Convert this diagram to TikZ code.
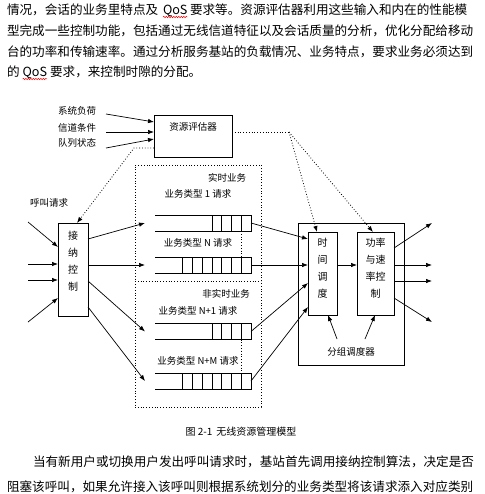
\documentclass[tikz,border=0pt]{standalone}
\usepackage{fontspec}
\setmainfont{Noto Sans CJK SC}
\usetikzlibrary{arrows.meta,decorations.pathmorphing,calc}
\XeTeXinterchartokenstate=1
\XeTeXinterchartoks 1 1 = {\hskip 0pt plus 2pt\relax}
\XeTeXinterchartoks 1 3 = {\hskip 0pt plus 2pt\relax}
\XeTeXinterchartoks 3 1 = {\hskip 0pt plus 2pt\relax}
\XeTeXinterchartoks 1 2 = {\hskip 0pt plus 2pt\relax}
\XeTeXinterchartoks 2 1 = {\hskip 0pt plus 2pt\relax}
\newcommand\jline[1]{\makebox[468pt][s]{#1}}
\begin{document}
\begin{tikzpicture}[x=1pt,y=-1pt,
  every node/.style={inner sep=0pt, outer sep=0pt},
  body/.style={font=\fontsize{12.6}{14}\selectfont},
  lbl/.style={font=\fontsize{9.5}{11}\selectfont},
  vlbl/.style={font=\fontsize{10}{17}\selectfont, align=center},
  box/.style={draw, line width=0.9pt},
  conn/.style={line width=0.7pt},
  arr/.style={conn, -{Latex[length=6pt,width=4.5pt]}},
  dotc/.style={line width=0.8pt, dotted},
  darr/.style={dotc, -{Latex[length=6pt,width=4.5pt]}},
  dbox/.style={draw, line width=0.8pt, dotted},
  qline/.style={line width=0.8pt},
  squig/.style={red, line width=0.5pt, decorate, decoration={snake, amplitude=0.7pt, segment length=2.5pt}}
]
\fill[white] (0,0) rectangle (484,494);
\useasboundingbox (0,0) rectangle (484,494);

% ---------- top paragraph ----------
\node[body, anchor=base west] (t1a) at (7,15) {\makebox[153pt][s]{情况，会话的业务里特点及}};
\node[body, anchor=base west] (q1) at ([xshift=3pt]t1a.base east) {QoS};
\node[body, anchor=base east] (t1b) at (475,15) {\makebox[285pt][s]{要求等。资源评估器利用这些输入和内在的性能模}};
\draw[squig] ([yshift=-2pt]q1.base west) -- ([yshift=-2pt]q1.base east);
\node[body, anchor=base west] (t2) at (7,36) {\jline{型完成一些控制功能，包括通过无线信道特征以及会话质量的分析，优化分配给移动}};
\node[body, anchor=base west] (t3) at (7,57) {\jline{台的功率和传输速率。通过分析服务基站的负载情况、业务特点，要求业务必须达到}};
\node[body, anchor=base west] (t4a) at (7,77) {的};
\node[body, anchor=base west] (q2) at ([xshift=3pt]t4a.base east) {QoS};
\node[body, anchor=base west] (t4b) at ([xshift=3pt]q2.base east) {要求，来控制时隙的分配。};
\draw[squig] ([yshift=-2pt]q2.base west) -- ([yshift=-2pt]q2.base east);

% ---------- resource evaluator ----------
\node[lbl] (l1) at (77,111) {系统负荷};
\node[lbl] (l2) at (77,128) {信道条件};
\node[lbl] (l3) at (77,143) {队列状态};
\node[box, minimum width=78pt, minimum height=42pt] (eval) at (193,136) {};
\node[lbl] (evall) at (193,127) {资源评估器};
\coordinate (s1) at (106,114);
\coordinate (s2) at (106,132);
\coordinate (s3) at (106,148);
\draw[arr] (s1) -- (eval.west |- 0,122);
\draw[arr] (s2) -- (eval.west |- 0,132);
\draw[arr] (s3) -- (eval.west |- 0,139);

% ---------- admission control ----------
\node[lbl] (call) at (49,203) {呼叫请求};
\node[box, minimum width=30pt, minimum height=93pt] (adm) at (73,269.5) {};
\node[vlbl] (adml) at (73,261.5) {接\\纳\\控\\制};
\coordinate (i1) at (28,222);
\coordinate (i2) at (28,264);
\coordinate (i3) at (28,280);
\coordinate (i4) at (28,322);
\draw[arr] (i1) -- (adm.west |- 0,247);
\draw[arr] (i2) -- (adm.west |- 0,264);
\draw[arr] (i3) -- (adm.west |- 0,280);
\draw[arr] (i4) -- (adm.west |- 0,298);
\coordinate (bend1) at (134,148);
\draw[darr] (eval.west |- 0,148) -- (bend1) -- (adm.north -| 77,0);

% ---------- queues ----------
\node[dbox, minimum width=126pt, minimum height=242pt] (qbox) at (198,286) {};
\draw[dotc] (qbox.west |- 0,281) -- (qbox.east |- 0,281);
\node[lbl] (rt) at (227,178) {实时业务};
\node[lbl] (nrt) at (226,294) {非实时业务};
\node[lbl] (la) at (198,194) {业务类型 1 请求};
\node[lbl] (lb) at (198,243) {业务类型 N 请求};
\node[lbl] (lc) at (198,311) {业务类型 N+1 请求};
\node[lbl] (ld) at (198,361) {业务类型 N+M 请求};
\foreach \nm/\yy/\cells in {qa/223/4, qb/265/7, qc/331.5/4, qd/381/7}{
  \node[minimum width=96pt, minimum height=16pt] (\nm) at (203,\yy) {};
  \draw[qline] (\nm.north west) -- (\nm.north east) -- (\nm.south east) -- (\nm.south west);
  \foreach \k in {1,...,\cells}{
    \draw[qline] ([xshift={-\k*9.75pt}]\nm.north east) -- ([xshift={-\k*9.75pt}]\nm.south east);
  }
}
\draw[dotc] ([xshift=-9.75pt]qa.south east) -- ([xshift=-9.75pt]qb.north east);
\draw[dotc] ([xshift=-9.75pt]qc.south east) -- ([xshift=-9.75pt]qd.north east);
\draw[arr] (adm.east |- 0,239) -- ([xshift=-10pt]qa.west);
\draw[arr] (adm.east |- 0,265) -- ([xshift=-10pt]qb.west);
\draw[arr] (adm.east |- 0,281) -- ([xshift=-10pt]qc.west);
\draw[arr] (adm.east |- 0,307) -- ([xshift=-10pt]qd.west);

% ---------- packet scheduler ----------
\node[box, minimum width=106pt, minimum height=142pt] (sch) at (351,294) {};
\node[box, minimum width=29pt, minimum height=83pt] (ts) at (322.5,273.5) {};
\node[vlbl] (tsl) at (322.5,268.5) {时\\间\\调\\度};
\node[box, minimum width=37pt, minimum height=83pt] (pw) at (375.5,273.5) {};
\node[vlbl] (pwl) at (375.5,268.5) {功率\\与速\\率控\\制};
\node[lbl] (gs) at (351,352) {分组调度器};
\draw[arr] (qa.east) -- (ts.west |- 0,239);
\draw[arr] (qb.east) -- (ts.west |- 0,265);
\draw[arr] (qc.east) -- (ts.west |- 0,283);
\draw[arr] (qd.east) -- (ts.west |- 0,307);
\draw[arr] (ts.east |- 0,265) -- (pw.west |- 0,265);
\coordinate (o1) at (432,223);
\coordinate (o2) at (432,265);
\coordinate (o3) at (432,281);
\coordinate (o4) at (432,322);
\draw[arr] (pw.east |- 0,248) -- (o1);
\draw[arr] (pw.east |- 0,265) -- (o2);
\draw[arr] (pw.east |- 0,281) -- (o3);
\draw[arr] (pw.east |- 0,298) -- (o4);
\coordinate (g1) at (337,339);
\coordinate (g2) at (365,339);
\draw[arr] (g1) -- (ts.south -| 328,0);
\draw[arr] (g2) -- (pw.south -| 375,0);
\coordinate (ev) at (289,132);
\draw[dotc] (eval.east |- 0,132) -- (ev);
\draw[darr] (ev) -- (ts.north -| 317,0);
\draw[darr] (ev) -- (pw.north -| 373,0);

% ---------- caption and bottom paragraph ----------
\node[font=\fontsize{10}{12}\selectfont, anchor=base] (cap) at (241,435.5) {图 2-1 \,无线资源管理模型};
\node[body, anchor=base west] (b1) at (33,466) {\makebox[442pt][s]{当有新用户或切换用户发出呼叫请求时，基站首先调用接纳控制算法，决定是否}};
\node[body, anchor=base west] (b2) at (7,491) {\jline{阻塞该呼叫，如果允许接入该呼叫则根据系统划分的业务类型将该请求添入对应类别}};
\end{tikzpicture}
\end{document}
